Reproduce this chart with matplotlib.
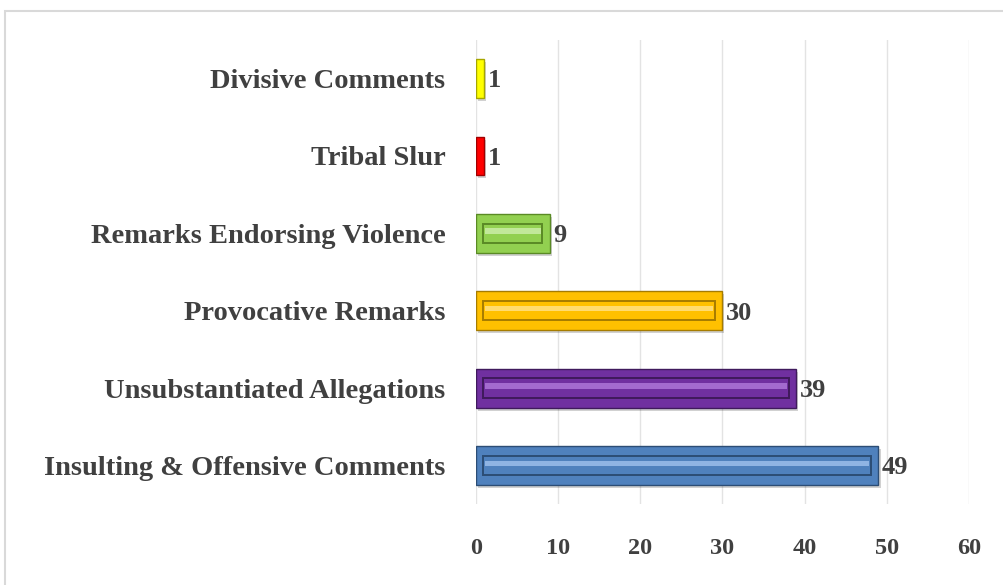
import numpy as np
import matplotlib.pyplot as plt
from matplotlib.patches import Rectangle

categories = ['Insulting & Offensive Comments', 'Unsubstantiated Allegations',
              'Provocative Remarks', 'Remarks Endorsing Violence',
              'Tribal Slur', 'Divisive Comments']
counts = [49, 39, 30, 9, 1, 1]
face_colors = ['#4f81bd', '#7030a0', '#ffc000', '#92d050', '#ff0000', '#ffff00']
dark_colors = ['#2c4d75', '#3f1a5c', '#a67c00', '#5a8a25', '#a00000', '#a6a600']
light_colors = ['#8fb4e3', '#a36bcf', '#ffdb70', '#c2e89a', '#ff6060', '#ffff90']
ticks = [0, 10, 20, 30, 40, 50, 60]

txt = '#404040'
plt.rcParams['font.family'] = ['Liberation Serif', 'DejaVu Serif']
plt.rcParams['font.weight'] = 'bold'

fig = plt.figure(figsize=(10.04, 5.85), dpi=100)
ax = fig.add_axes([0.474, 0.138, 0.491, 0.794])

# outer chart frame
fig.patches.append(Rectangle((5 / 1004, -0.1), 1.2, 1 - 11 / 585 + 0.1,
                             transform=fig.transFigure, fill=False,
                             edgecolor='#d9d9d9', linewidth=1.5))

y = np.arange(len(categories))
h = 0.5
# soft drop shadow
ax.barh(y - 0.04, counts, height=h, left=0.25, color='#000000', alpha=0.18, zorder=2)
ax.barh(y, counts, height=h, color=face_colors, edgecolor=dark_colors,
        linewidth=1.0, zorder=3)

# bevel: inner panel for bars wide enough
for yi, v, dc, lc, fc in zip(y, counts, dark_colors, light_colors, face_colors):
    if v < 3:
        continue
    ax.barh(yi, v - 1.8, left=0.9, height=h * 0.5, color=fc,
            edgecolor=dc, linewidth=1.4, zorder=4)
    ax.barh(yi + h * 0.06, v - 2.2, left=1.1, height=h * 0.14, color=lc,
            linewidth=0, zorder=5)

for yi, v in zip(y, counts):
    ax.text(v + 0.4, yi - 0.03, str(v), va='center', ha='left', fontsize=19,
            color=txt, fontweight='bold', zorder=6)

ax.set_xlim(0, 60)
ax.set_ylim(-0.5, len(categories) - 0.5)
ax.set_xticks(ticks)
ax.set_yticks(y)
ax.set_yticklabels(categories)
ax.xaxis.grid(True, color='#e3e3e3', linewidth=1)
ax.set_axisbelow(True)
for s in ax.spines.values():
    s.set_visible(False)
ax.tick_params(axis='x', length=0, pad=24, labelsize=17.5, labelcolor=txt)
ax.tick_params(axis='y', length=0, pad=22, labelsize=20.5, labelcolor=txt)

fig.savefig('out.png', dpi=100)
